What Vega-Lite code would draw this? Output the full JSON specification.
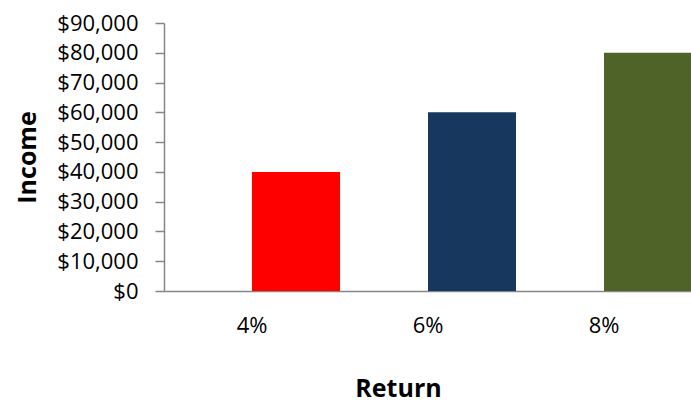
{
  "$schema": "https://vega.github.io/schema/vega-lite/v6.json",
  "autosize": {"type": "none"},
  "padding": {"left": 164, "top": 23, "right": 0, "bottom": 114},
  "width": 528,
  "height": 268,
  "background": "white",
  "config": {
    "view": {"stroke": null},
    "font": "Open Sans",
    "axis": {
      "domainColor": "#868686",
      "domainWidth": 1.5,
      "tickColor": "#868686",
      "tickWidth": 1.5,
      "grid": false,
      "labelFont": "Open Sans",
      "labelFontSize": 22,
      "labelColor": "#000000",
      "labelOverlap": false,
      "titleFont": "Open Sans",
      "titleFontSize": 25,
      "titleFontWeight": "bold",
      "titleColor": "#000000"
    }
  },
  "data": {
    "values": [
      {"rate": "4%", "income": 40000},
      {"rate": "6%", "income": 60000},
      {"rate": "8%", "income": 80000}
    ]
  },
  "mark": {"type": "bar"},
  "encoding": {
    "x": {
      "field": "rate",
      "type": "nominal",
      "bandPosition": 0.5,
      "scale": {"paddingInner": 0, "paddingOuter": 0},
      "axis": {
        "title": "Return",
        "labelAngle": 0,
        "ticks": false,
        "tickSize": 0,
        "labelPadding": 24,
        "titlePadding": 40,
        "titleX": 234
      }
    },
    "x2": {"field": "rate", "bandPosition": 1},
    "y": {
      "field": "income",
      "type": "quantitative",
      "scale": {"domain": [0, 90000]},
      "axis": {
        "title": "Income",
        "format": "$,.0f",
        "values": [0, 10000, 20000, 30000, 40000, 50000, 60000, 70000, 80000, 90000],
        "tickSize": 9,
        "labelPadding": 17,
        "titlePadding": 16
      }
    },
    "y2": {"datum": 0},
    "color": {
      "field": "rate",
      "type": "nominal",
      "scale": {"domain": ["4%", "6%", "8%"], "range": ["#FF0000", "#17375E", "#4F6228"]},
      "legend": null
    }
  }
}
